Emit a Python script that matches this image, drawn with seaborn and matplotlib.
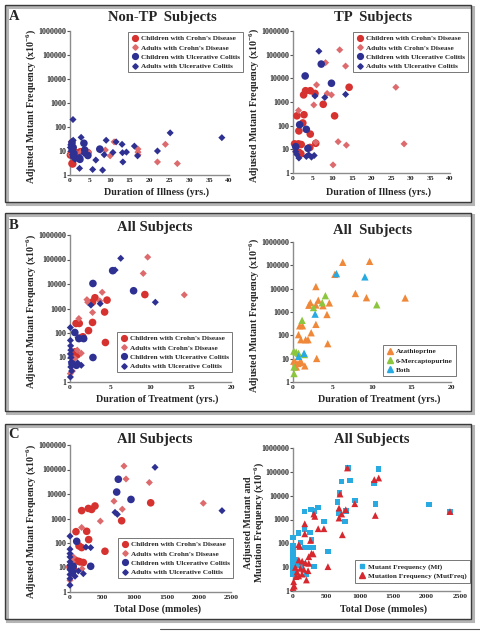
import matplotlib
matplotlib.use("Agg")
import matplotlib.pyplot as plt
import seaborn as sns
import pandas as pd
from matplotlib.patches import Rectangle
from matplotlib.lines import Line2D
from matplotlib.ticker import FixedLocator, FuncFormatter, NullLocator

# ---- Panel A, left: Non-TP subjects, duration of illness (yrs) vs adjusted Mf
nontp_cdc_x = [0.5, 0.7, 4.5, 2.6, 1.6, 0.1]
nontp_cdc_y = [3.0, 2.9, 8.5, 9.3, 8.5, 6.8]
nontp_cda_x = [0.3, 2.8, 4.7, 8.9, 10.1, 11.1, 17.1, 17.1, 17.1, 22.0, 24.0, 27.0, 1.5, 0.2]
nontp_cda_y = [24, 9, 9, 11, 6.3, 24, 12, 9, 7, 3.5, 19, 3, 8, 7]
nontp_ucc_x = [0.5, 0.8, 1.0, 3.5, 3.7, 4.5, 2.5, 0.9, 2.2, 7.5]
nontp_ucc_y = [22, 14, 8, 21, 11, 6.5, 4.5, 6, 5, 12]
nontp_uca_x = [0.75, 25.2, 38.2, 2.8, 9.1, 11.6, 13.1, 16.2, 22.0, 17.0, 13.2, 14.2, 10.8, 7.6,
               8.6, 13.3, 6.5, 5.7, 8.2, 2.4, 0.2, 0.4, 0.6, 1.0, 1.3, 2.5, 3.5, 4.3, 0.5, 0.1, 0.3, 0.8]
nontp_uca_y = [205, 57, 36, 37, 28, 24, 19, 16, 10, 6.3, 8.5, 9, 8.7, 11,
               7, 3.5, 4.2, 1.7, 1.6, 1.9, 18, 12, 7, 5, 4.5, 5.5, 8, 6.5, 25, 14, 10, 28]

# ---- Panel A, right: TP subjects
tp_cdc_x = [4.4, 3.2, 2.7, 5.6, 14.3, 7.7, 10.6, 1.0, 2.8, 2.5, 1.5, 4.4, 5.8, 4.3, 0.4, 1.4, 2.1, 0.9, 1.5, 2.0]
tp_cdc_y = [3000, 3000, 2000, 2300, 4200, 800, 260, 260, 290, 130, 60, 44, 18, 12, 17, 17, 16, 8, 7.5, 6.5]
tp_cda_x = [11.9, 13.4, 8.3, 6.0, 8.7, 9.8, 5.3, 1.4, 26.2, 11.5, 13.6, 28.3, 10.2, 5.8]
tp_cda_y = [160000, 33000, 46000, 5300, 2300, 2000, 750, 440, 4200, 21, 15, 17, 2.2, 20]
tp_ucc_x = [7.2, 3.1, 9.8, 1.7, 3.4, 3.8, 0.7]
tp_ucc_y = [40000, 12600, 6200, 110, 70, 11, 13]
tp_uca_x = [6.6, 5.6, 8.1, 13.4, 0.7, 1.0, 1.5, 3.4, 4.0, 4.7, 5.4]
tp_uca_y = [140000, 1800, 1550, 2100, 8, 6, 4.3, 5, 5.9, 4.7, 5.5]

# ---- Panel B, left: duration of treatment (yrs)
trt_cdc_x = [3.1, 4.6, 2.8, 4.3, 9.3, 2.8, 2.3, 1.15, 0.75, 1.4, 1.6, 4.4, 0.6, 0.4, 0.9]
trt_cdc_y = [2750, 2200, 1850, 720, 3700, 270, 125, 245, 245, 65, 70, 41, 17, 11, 13]
trt_cda_x = [9.65, 9.1, 5.4, 4.0, 14.2, 2.2, 2.1, 3.7, 2.8, 1.1, 1.4, 0.04, 0.3, 0.6, 0.9]
trt_cda_y = [125000, 27000, 35000, 4600, 3600, 1800, 2300, 2050, 690, 390, 15, 2.2, 2.8, 9, 20]
trt_ucc_x = [5.3, 2.85, 7.9, 0.6, 1.1, 1.7, 2.85, 0.25, 0.8]
trt_ucc_y = [35000, 10500, 5300, 105, 59, 59, 10, 5.6, 4.8]
trt_uca_x = [6.3, 5.6, 2.6, 3.75, 10.6, 0.04, 0.05, 0.08, 0.1, 0.05, 0.12, 0.15, 0.1, 0.2, 0.05, 1.0, 1.4, 0.95]
trt_uca_y = [112000, 37000, 1380, 1580, 1800, 167, 50, 30, 20, 14, 10, 6.6, 4.1, 2.8, 1.6, 65, 4.8, 6]

# ---- Panel B, right: same subjects by drug
aza_x = [6.3, 9.7, 5.3, 2.9, 7.9, 9.3, 14.2, 4.6, 3.2, 2.2, 2.0, 2.9, 3.8, 4.3, 2.9, 2.3, 0.7, 0.85,
         1.2, 1.0, 1.6, 1.9, 4.4, 3.0, 0.1, 0.34, 0.63, 0.85, 0.42, 1.5, 1.05]
aza_y = [135000, 148000, 41000, 12300, 6200, 4100, 4000, 2450, 3200, 2500, 1950, 2000, 1860, 780, 295,
         129, 107, 257, 257, 65, 65, 65, 44, 10.2, 7.8, 6.8, 6.2, 6.8, 4.4, 4.9, 7.2]
mp_x = [4.1, 3.7, 2.6, 10.6, 1.15, 0.1, 0.4, 0.7, 0.13, 0.13, 1.45]
mp_y = [5000, 2500, 1550, 2040, 440, 21, 19, 17, 4.4, 2.3, 15]
both_x = [5.5, 9.1, 2.8, 1.4, 0.7]
both_y = [44000, 32000, 810, 17, 12.6]

# ---- Panel C, left: total dose (mmoles)
dose_cdc_x = [181, 285, 336, 388, 1253, 802, 93, 259, 290, 140, 181, 543, 78, 130, 155, 207, 26, 52, 0]
dose_cdc_y = [2100, 2570, 2340, 3240, 4370, 810, 290, 300, 138, 76, 65, 46, 20, 18, 17, 16, 12.3, 8.9, 10.5]
dose_cda_x = [838, 870, 1232, 683, 812, 471, 181, 2070, 186, 36, 52, 0, 16]
dose_cda_y = [138000, 41000, 29500, 5100, 2400, 780, 430, 4200, 8.9, 17, 27, 3.0, 4.8]
dose_ucc_x = [750, 725, 947, 104, 321, 20, 50, 40]
dose_ucc_y = [40000, 12000, 6000, 117, 11.2, 8.9, 11.2, 6.6]
dose_uca_x = [1320, 699, 735, 2360, 248, 321, 0, 0, 0, 0, 0, 0, 0, 0, 0, 0, 207, 130, 78]
dose_uca_y = [123000, 1780, 1480, 2090, 68, 65, 190, 56, 37, 27, 17, 12.3, 8.1, 5.2, 3.5, 1.9, 5.6, 7.2, 4.4]

# ---- Panel C, right: mutant vs mutation frequency
mf_x = [825, 1283, 724, 850, 1212, 699, 930, 669, 1232, 2037, 171, 272, 322, 377, 679, 790, 780, 463,
        171, 85, 257, 277, 111, 171, 222, 262, 302, 528, 317, 201, 2350, 0, 0, 0, 0, 0, 0, 0, 0, 0,
        0, 0, 30, 50, 60, 90, 130, 150]
mf_y = [145000, 135000, 40000, 44000, 32000, 12600, 6200, 5400, 4500, 4200, 2200, 2600, 2300, 3200,
        1860, 2300, 830, 830, 410, 270, 280, 141, 107, 66, 66, 66, 66, 45, 10.5, 5.0, 2150, 174, 79,
        50, 35, 28, 22, 18, 14, 11.2, 7.9, 5.0, 20, 18, 16, 12.6, 10, 14]
mut_x = [815, 1283, 1217, 704, 689, 925, 729, 689, 790, 1232, 739, 2350, 312, 327, 176, 377, 463, 176,
         262, 85, 100, 236, 277, 302, 523, 201, 87, 137, 186, 236, 35, 110, 161, 226, 60, 136, 45, 85,
         10, 20, 0]
mut_y = [145000, 55000, 47000, 11700, 3000, 4600, 1700, 1150, 2570, 1480, 229, 2150, 1700, 1350, 660,
         410, 410, 250, 132, 87, 74, 27.5, 38, 36, 10.5, 2.9, 20, 17.8, 15.1, 14.5, 9.8, 8.9, 8.1, 7.1,
         6.3, 5.1, 4.0, 4.3, 2.45, 1.6, 1.4]

disease_labels = ["Children with Crohn's Disease", "Adults with Crohn's Disease",
                  "Children with Ulcerative Colitis", "Adults with Ulcerative Colitis"]
drug_labels = ["Azathioprine", "6-Mercaptopurine", "Both"]
freq_labels = ["Mutant Frequency (Mf)", "Mutation Frequency (MutFreq)"]
y_levels = [1, 10, 100, 1000, 10000, 100000, 1000000]

# styles: marker, colour, size
disease_style = [("o", "#d6322f", 30), ("D", "#dd6a6c", 13), ("o", "#2e3192", 30), ("D", "#2e3192", 13)]
drug_style = [("^", "#f0883a", 28), ("^", "#8cc63f", 28), ("^", "#27a9e1", 28)]
freq_style = [("s", "#29abe2", 16), ("^", "#d7282f", 24)]

W, H = 480, 631
sns.set_theme(style="white")
plt.rcParams["font.family"] = ["Liberation Serif", "DejaVu Serif"]
plt.rcParams["font.weight"] = "bold"
plt.rcParams["mathtext.fontset"] = "custom"
plt.rcParams["mathtext.rm"] = "Liberation Serif:bold"
plt.rcParams["mathtext.default"] = "rm"

fig = plt.figure(figsize=(W / 100, H / 100), dpi=100)
fig.patch.set_facecolor("white")


def fx(x):
    return x / W


def fy(y):
    return 1 - y / H


# framed boxes with a soft shadow
for top, bot in [(5, 202), (213, 411), (424, 619)]:
    fig.add_artist(Rectangle((fx(7), fy(bot + 2)), fx(466), (bot - top) / H, transform=fig.transFigure,
                             fill=False, edgecolor="#b5b5b5", lw=2.2, zorder=0))
    fig.add_artist(Rectangle((fx(5), fy(bot)), fx(466), (bot - top) / H, transform=fig.transFigure,
                             fill=False, edgecolor="#3a3a3a", lw=1.0, zorder=1))
fig.add_artist(Line2D([fx(160), fx(480)], [fy(629), fy(629)], transform=fig.transFigure,
                      color="#555555", lw=0.8))


def make_ax(x0, x1, y0, y1, xmax, xticks):
    ax = fig.add_axes([fx(x0), fy(y1), (x1 - x0) / W, (y1 - y0) / H])
    ax.set_facecolor("none")
    ax.set_yscale("log")
    ax.set_ylim(1, 1e6)
    ax.set_xlim(0, xmax)
    ax.yaxis.set_major_locator(FixedLocator(y_levels))
    ax.yaxis.set_major_formatter(FuncFormatter(lambda v, p: f"{int(round(v))}"))
    ax.yaxis.set_minor_locator(NullLocator())
    ax.set_xticks(xticks)
    for s in ["top", "right"]:
        ax.spines[s].set_visible(False)
    for s in ["left", "bottom"]:
        ax.spines[s].set_color("#8c8c8c")
        ax.spines[s].set_linewidth(1.0)
    ax.tick_params(axis="y", labelsize=5.8, length=2, width=0.8, color="#555555", pad=0.5, left=True)
    ax.tick_params(axis="x", labelsize=5.4, length=0, pad=2.5, bottom=True)
    ax.grid(False)
    return ax


def draw(ax, series, labels, styles):
    for (xs, ys), label, (marker, color, size) in zip(series, labels, styles):
        sns.scatterplot(x=xs, y=ys, ax=ax, marker=marker, color=color, s=size, edgecolor="none",
                        linewidth=0, label=label, clip_on=False, zorder=3, legend=False)


def legend(ax, x0, y0, fs=5.2, scale=0.8, spacing=0.45):
    handles = [Line2D([], [], ls="none", marker=m, color=c, markersize=(s ** 0.5) * 0.95 * scale)
               for m, c, s in ax._styles]
    leg = ax.legend(handles, ax._labels, loc="upper left", bbox_to_anchor=(fx(x0), fy(y0)),
                    bbox_transform=fig.transFigure, fontsize=fs, frameon=True, fancybox=False,
                    edgecolor="#555555", borderpad=0.45, handletextpad=0.3, labelspacing=spacing,
                    handlelength=1.0, borderaxespad=0)
    leg.get_frame().set_linewidth(0.7)
    for t in leg.get_texts():
        t.set_fontweight("bold")


ylab = "Adjusted Mutant Frequency (x10$^{-6}$)"
panels = [
    # x0, x1, y0, y1, xmax, ticks, series, labels, styles, title, title pos, xlabel, xlabel y, legend corner
    (70, 229, 31, 175, 40, range(0, 41, 5),
     [(nontp_cdc_x, nontp_cdc_y), (nontp_cda_x, nontp_cda_y), (nontp_ucc_x, nontp_ucc_y), (nontp_uca_x, nontp_uca_y)],
     disease_labels, disease_style, "Non-TP  Subjects", (162, 17), "Duration of Illness (yrs.)", 192, (128, 32)),
    (293, 450, 31, 173, 40, range(0, 41, 5),
     [(tp_cdc_x, tp_cdc_y), (tp_cda_x, tp_cda_y), (tp_ucc_x, tp_ucc_y), (tp_uca_x, tp_uca_y)],
     disease_labels, disease_style, "TP  Subjects", (373, 17), "Duration of Illness (yrs.)", 192, (353, 32)),
    (70, 231, 235, 382, 20, range(0, 21, 5),
     [(trt_cdc_x, trt_cdc_y), (trt_cda_x, trt_cda_y), (trt_ucc_x, trt_ucc_y), (trt_uca_x, trt_uca_y)],
     disease_labels, disease_style, "All Subjects", (155, 228), "Duration of Treatment (yrs.)", 399, (117, 332)),
    (293, 451, 242, 382, 20, range(0, 21, 5),
     [(aza_x, aza_y), (mp_x, mp_y), (both_x, both_y)],
     drug_labels, drug_style, "All  Subjects", (373, 230), "Duration of Treatment (yrs.)", 399, (383, 345)),
    (70, 231, 445, 592, 2500, range(0, 2501, 500),
     [(dose_cdc_x, dose_cdc_y), (dose_cda_x, dose_cda_y), (dose_ucc_x, dose_ucc_y), (dose_uca_x, dose_uca_y)],
     disease_labels, disease_style, "All Subjects", (155, 440), "Total Dose (mmoles)", 609, (118, 538)),
    (293, 460, 448, 591, 2500, range(0, 2501, 500),
     [(mf_x, mf_y), (mut_x, mut_y)],
     freq_labels, freq_style, "All Subjects", (372, 440), "Total Dose (mmoles)", 609, (355, 560)),
]

for i, (x0, x1, y0, y1, xmax, ticks, series, labels, styles, title, tpos, xlab, xly, lpos) in enumerate(panels):
    ax = make_ax(x0, x1, y0, y1, xmax, list(ticks))
    draw(ax, series, labels, styles)
    ax._styles, ax._labels = styles, labels
    legend(ax, *lpos)
    fig.text(fx(tpos[0]), fy(tpos[1]), title, ha="center", va="center", fontsize=10.5, fontweight="bold")
    fig.text(fx((x0 + x1) / 2 + 7), fy(xly), xlab, ha="center", va="center", fontsize=7.2, fontweight="bold")
    if i == 5:
        fig.text(fx(255), fy((y0 + y1) / 2 + 3), "Adjusted Mutant and\nMutation Frequency (x10$^{-6}$)",
                 rotation=90, ha="center", va="center", fontsize=7.2, fontweight="bold", linespacing=1.0)
    else:
        fig.text(fx(x0 - 39), fy((y0 + y1) / 2 + 3), ylab, rotation=90, ha="center", va="center",
                 fontsize=7.2, fontweight="bold")

for letter, yy in [("A", 17), ("B", 225), ("C", 435)]:
    fig.text(fx(14), fy(yy), letter, ha="center", va="center", fontsize=10.5, fontweight="bold")

fig.savefig("out.png", dpi=100, facecolor="white")
